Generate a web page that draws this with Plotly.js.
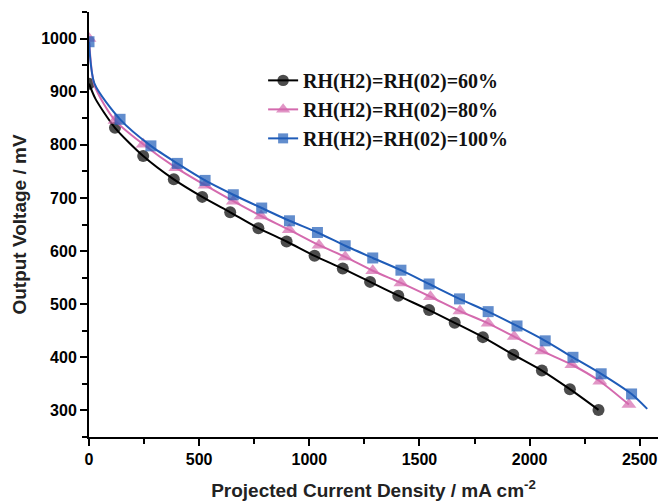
<!DOCTYPE html>
<html>
<head>
<meta charset="utf-8">
<script src="https://cdn.plot.ly/plotly-3.0.1.min.js"></script>
<style>html,body{margin:0;padding:0;background:#fff;}#chart{width:660px;height:503px;}</style>
</head>
<body>
<div id="chart"></div>
<script>
// Series names
const seriesNames = ["RH(H2)=RH(02)=60%", "RH(H2)=RH(02)=80%", "RH(H2)=RH(02)=100%"];

// RH 60% (black circles); 2nd value is an unmarked knee point on the curve
const x60 = [0, 30, 118, 246, 385, 514, 641, 769, 897, 1024, 1152, 1276, 1404, 1544, 1660, 1788, 1926, 2056, 2183, 2313];
const y60 = [915, 886, 832, 779, 735, 702, 673, 643, 618, 591, 567, 542, 516, 489, 465, 438, 405, 375, 340, 301];
const m60 = [1, 0, 1, 1, 1, 1, 1, 1, 1, 1, 1, 1, 1, 1, 1, 1, 1, 1, 1, 1];

// RH 80% (pink triangles)
const x80 = [0, 25, 118, 246, 394, 527, 655, 781, 909, 1044, 1163, 1288, 1416, 1550, 1684, 1812, 1930, 2056, 2192, 2319, 2451];
const y80 = [1000, 912, 846, 801, 757, 724, 694, 666, 640, 611, 589, 563, 540, 514, 487, 464, 439, 412, 386, 355, 311];
const m80 = [1, 0, 1, 1, 1, 1, 1, 1, 1, 1, 1, 1, 1, 1, 1, 1, 1, 1, 1, 1, 1];

// RH 100% (blue squares); last value is the unmarked end of the line
const x100 = [0, 25, 141, 281, 401, 527, 655, 784, 910, 1037, 1163, 1288, 1416, 1544, 1682, 1812, 1943, 2071, 2197, 2325, 2463, 2534];
const y100 = [994, 915, 848, 798, 765, 733, 706, 681, 657, 635, 610, 587, 564, 538, 510, 486, 459, 431, 400, 369, 331, 303];
const m100 = [1, 0, 1, 1, 1, 1, 1, 1, 1, 1, 1, 1, 1, 1, 1, 1, 1, 1, 1, 1, 1, 0];

const colors = ["#000000", "#d46aae", "#1f5cb8"];

function mk(x, y, show, name, color, symbol, size) {
  return {
    x: x, y: y, name: name, type: "scatter", mode: "lines+markers",
    line: {color: color, width: 2, shape: "spline", smoothing: 0.7},
    marker: {color: color, symbol: symbol, size: show.map(v => v ? size : 0), line: {width: 0}},
    hoverinfo: "x+y"
  };
}

const data = [
  mk(x60, y60, m60, seriesNames[0], colors[0], "circle", 12),
  mk(x80, y80, m80, seriesNames[1], colors[1], "triangle-up", 13),
  mk(x100, y100, m100, seriesNames[2], colors[2], "square", 11)
];

const sansFam = "Liberation Sans, Arial, sans-serif";
const layout = {
  width: 660, height: 503,
  margin: {l: 89, r: 2, t: 12, b: 66},
  paper_bgcolor: "#fff", plot_bgcolor: "#fff",
  showlegend: true,
  legend: {
    x: 0.306, y: 0.885, xanchor: "left", yanchor: "top",
    bgcolor: "rgba(0,0,0,0)", borderwidth: 0,
    font: {family: "Liberation Serif, Times New Roman, serif", size: 20, color: "#111", weight: "bold"},
    tracegroupgap: 0
  },
  xaxis: {
    range: [0, 2583], dtick: 500, tick0: 0,
    showgrid: false, zeroline: false,
    showline: true, linecolor: "#000", linewidth: 2,
    ticks: "outside", ticklen: 7, tickwidth: 2, tickcolor: "#000",
    minor: {dtick: 250, ticks: "outside", ticklen: 5, tickwidth: 2, tickcolor: "#000", showgrid: false},
    tickfont: {family: sansFam, size: 16, color: "#000", weight: "bold"},
    title: {text: "Projected Current Density / mA cm<sup>-2</sup>", standoff: 16,
            font: {family: sansFam, size: 19, color: "#222", weight: "bold"}}
  },
  yaxis: {
    range: [250, 1050], dtick: 100, tick0: 0,
    showgrid: false, zeroline: false,
    showline: true, linecolor: "#000", linewidth: 2,
    ticks: "outside", ticklen: 7, tickwidth: 2, tickcolor: "#000",
    minor: {dtick: 50, ticks: "outside", ticklen: 5, tickwidth: 2, tickcolor: "#000", showgrid: false},
    tickfont: {family: sansFam, size: 16, color: "#000", weight: "bold"},
    title: {text: "Output Voltage / mV", standoff: 10,
            font: {family: sansFam, size: 19, color: "#222", weight: "bold"}}
  }
};

Plotly.newPlot("chart", data, layout, {displayModeBar: false, staticPlot: true});
</script>
</body>
</html>
